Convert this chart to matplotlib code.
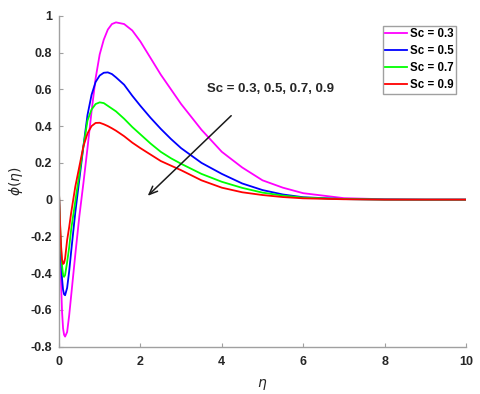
import numpy as np
import matplotlib
matplotlib.use("Agg")
import matplotlib.pyplot as plt

plt.rcParams['font.family'] = ['Liberation Sans', 'DejaVu Sans']
plt.rcParams['mathtext.fontset'] = 'dejavusans'

# eta grid
eta = [0, 0.025, 0.05, 0.075, 0.1, 0.125, 0.15, 0.2, 0.25, 0.3, 0.35, 0.4, 0.45, 0.5,
       0.6, 0.7, 0.8, 0.9, 1.0, 1.1, 1.2, 1.3, 1.4, 1.6, 1.8, 2.0, 2.25, 2.5, 2.75, 3.0,
       3.5, 4.0, 4.5, 5.0, 5.5, 6.0, 7.0, 8.0, 9.0, 10.0]

phi_sc03 = [0.04, -0.22, -0.45, -0.61, -0.70, -0.735, -0.745, -0.72, -0.63, -0.52, -0.41,
            -0.30, -0.195, -0.09, 0.09, 0.28, 0.48, 0.66, 0.79, 0.87, 0.925, 0.955, 0.964,
            0.955, 0.92, 0.86, 0.77, 0.68, 0.60, 0.52, 0.38, 0.26, 0.175, 0.105, 0.065,
            0.035, 0.008, 0.002, 0.0, 0.0]
phi_sc05 = [0.04, -0.17, -0.33, -0.43, -0.49, -0.515, -0.52, -0.48, -0.39, -0.28, -0.175,
            -0.07, 0.02, 0.11, 0.29, 0.46, 0.57, 0.64, 0.675, 0.69, 0.692, 0.683, 0.665,
            0.625, 0.565, 0.51, 0.445, 0.385, 0.33, 0.28, 0.20, 0.14, 0.088, 0.052, 0.028,
            0.013, 0.003, 0.0005, 0.0, 0.0]
phi_sc07 = [0.04, -0.13, -0.27, -0.36, -0.41, -0.42, -0.41, -0.34, -0.26, -0.16, -0.085,
            -0.01, 0.065, 0.14, 0.29, 0.43, 0.49, 0.52, 0.529, 0.525, 0.51, 0.495, 0.48,
            0.44, 0.395, 0.355, 0.305, 0.26, 0.225, 0.195, 0.14, 0.097, 0.064, 0.038, 0.022,
            0.011, 0.003, 0.0005, 0.0, 0.0]
phi_sc09 = [0.04, -0.12, -0.25, -0.325, -0.35, -0.345, -0.32, -0.22, -0.15, -0.07, 0.0,
            0.07, 0.125, 0.18, 0.29, 0.36, 0.40, 0.417, 0.418, 0.41, 0.40, 0.388, 0.375,
            0.345, 0.31, 0.28, 0.245, 0.21, 0.185, 0.16, 0.105, 0.065, 0.04, 0.025, 0.014,
            0.007, 0.002, 0.0, 0.0, 0.0]

series = [phi_sc03, phi_sc05, phi_sc07, phi_sc09]
labels = ['Sc = 0.3', 'Sc = 0.5', 'Sc = 0.7', 'Sc = 0.9']
colors = ['#ff00ff', '#0000ff', '#00ff00', '#ff0000']

fig = plt.figure(figsize=(4.8, 3.94), dpi=100)
ax = fig.add_axes([0.1229, 0.12, 0.848, 0.840])

for y, lab, c in zip(series, labels, colors):
    ax.plot(eta, y, color=c, lw=1.3, label=lab)

ax.set_xlim(0, 10)
ax.set_ylim(-0.8, 1)
ax.set_xticks(np.arange(0, 11, 2))
ax.set_yticks(np.round(np.arange(-0.8, 1.01, 0.2), 1))
ax.set_yticklabels(['-0.8', '-0.6', '-0.4', '-0.2', '0', '0.2', '0.4', '0.6', '0.8', '1'])

for s in ['top', 'right']:
    ax.spines[s].set_visible(False)
for s in ['left', 'bottom']:
    ax.spines[s].set_color('#a0a0a0')
    ax.spines[s].set_linewidth(1.0)
ax.tick_params(direction='in', length=3, color='#a0a0a0', labelsize=9,
               labelcolor='#262626')
ax.tick_params(axis='x', pad=7)
ax.tick_params(axis='y', pad=5)
for t in ax.get_xticklabels() + ax.get_yticklabels():
    t.set_fontweight('bold')

ax.set_xlabel(r'$\eta$', fontsize=10, color='#262626', labelpad=6)
ax.set_ylabel(r'$\phi(\eta)$', fontsize=10, color='#262626', labelpad=4)

ax.annotate('', xy=(2.13, 0.01), xytext=(4.28, 0.467),
            arrowprops=dict(arrowstyle='->,head_length=0.6,head_width=0.25',
                            color='#1a1a1a', lw=1.1))
ax.text(3.64, 0.60, 'Sc = 0.3, 0.5, 0.7, 0.9', fontsize=9.5, fontweight='bold',
        color='#262626', va='center', ha='left')

leg = ax.legend(loc='upper right', prop={'weight': 'bold', 'size': 8.3},
                handlelength=1.9, handletextpad=0.2, labelspacing=0.42,
                borderpad=0.25, borderaxespad=0.85, fancybox=False, framealpha=1)
leg.get_frame().set_edgecolor('#a0a0a0')
leg.get_frame().set_linewidth(1.0)

fig.savefig('out.png', dpi=100)
